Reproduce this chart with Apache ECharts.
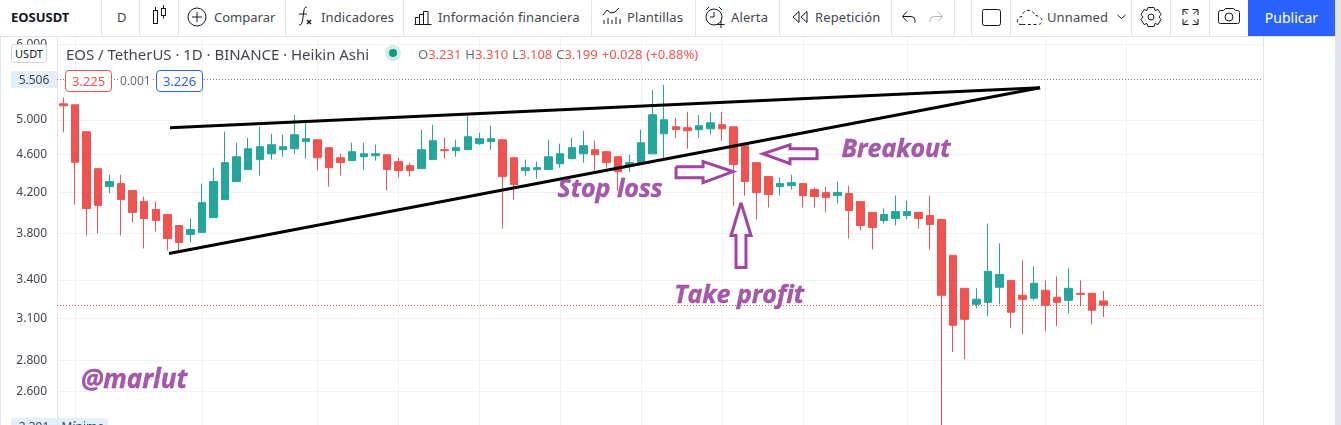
<!DOCTYPE html>
<html lang="es">
<head>
<meta charset="utf-8">
<title>EOSUSDT</title>
<script src="https://cdn.jsdelivr.net/npm/echarts@6/dist/echarts.min.js"></script>
<style>
  html, body { margin: 0; padding: 0; background: #fff; overflow: hidden; }
  body { width: 1341px; height: 425px; position: relative; font-family: "Noto Sans", sans-serif; color: #434651; }
  #chart { position: absolute; left: 0; top: 0; width: 1341px; height: 425px; }
  .abs { position: absolute; white-space: nowrap; }
  #toolbar { position: absolute; left: 0; top: 0; width: 1341px; height: 36px; background: #fff; border-bottom: 1px solid #e0e3eb; }
  .sep { position: absolute; top: 0; width: 1px; height: 36px; background: #e0e3eb; }
  .tb { position: absolute; top: 0; line-height: 35px; font-size: 13px; color: #434651; white-space: nowrap; letter-spacing: .12px; }
  svg.ic { position: absolute; left: 0; top: 0; overflow: visible; }
  svg.ic * { fill: none; stroke: #131722; stroke-width: 1; }
  .box { position: absolute; top: 70px; height: 20px; line-height: 20px; width: 45px; text-align: center; font-size: 13px; background: #fff; border-radius: 4px; }
  .red { color: #ef5350; }
</style>
</head>
<body>
<div id="chart"></div>

<div id="toolbar">
  <div class="tb" style="left:11px;font-weight:700;color:#131722;letter-spacing:0">EOSUSDT</div>
  <div class="tb" style="left:117px">D</div>
  <div class="tb" style="left:214px;letter-spacing:0">Comparar</div>
  <div class="tb" style="left:321px">Indicadores</div>
  <div class="tb" style="left:438px">Información financiera</div>
  <div class="tb" style="left:627px">Plantillas</div>
  <div class="tb" style="left:731px">Alerta</div>
  <div class="tb" style="left:815px">Repetición</div>
  <div class="tb" style="left:1047px">Unnamed</div>
  <div class="abs" style="left:1248px;top:0;width:87px;height:36px;line-height:35px;background:#2962ff;color:#fff;text-align:center;font-size:14px">Publicar</div>
  <div class="sep" style="left:101px"></div><div class="sep" style="left:139px"></div>
  <div class="sep" style="left:178px"></div><div class="sep" style="left:285px"></div>
  <div class="sep" style="left:403px"></div><div class="sep" style="left:591px"></div>
  <div class="sep" style="left:695px"></div><div class="sep" style="left:779px"></div>
  <div class="sep" style="left:891px"></div><div class="sep" style="left:954px"></div>
  <div class="sep" style="left:971px"></div><div class="sep" style="left:1010px"></div>
  <div class="sep" style="left:1131px"></div><div class="sep" style="left:1170px"></div>
  <div class="sep" style="left:1209px"></div>
  <svg class="ic" width="1341" height="36">
    <!-- candle type -->
    <rect x="153.500" y="10.500" width="4" height="13"/><path d="M155.500 7v3.500"/>
    <rect x="161.500" y="8.500" width="4" height="7"/><path d="M163.500 5v3.500M163.500 15.500v3"/>
    <!-- compare -->
    <circle cx="197" cy="17" r="9"/><path d="M197 12v10M192 17h10"/>
    <!-- indicators -->
    <path d="M299 25c2 0 3-1 3.500-4l1.500-11c.5-2.500 1.500-3 3-3M299 14h8"/>
    <path d="M307 20l4 4M311 20l-4 4" style="stroke-width:1.400"/>
    <!-- financials -->
    <path d="M414.500 24.500h17M415.500 24.500v-7h4v7M419.500 24.500v-10h4v10M423.500 24.500v-13h4.500v13"/>
    <!-- templates -->
    <path d="M603 15l4-5 4 3 4-1 4-4M604 24v-4M608 24v-6M612 24v-4M616 24v-7M620 24v-5"/>
    <!-- alert -->
    <circle cx="714" cy="17" r="8"/><path d="M714 12v5h-4M706 10l3-3M722 10l-3-3"/>
    <path d="M721 21v7M717.500 24.500h7"/>
    <!-- replay -->
    <path d="M799 11.500l-6 5.500 6 5.500zM807 11.500l-6 5.500 6 5.500z"/>
    <!-- undo, redo -->
    <path d="M903 16.500h8a4 4 0 0 1 4 4v2M907 11.500l-4.500 5 4.500 5"/>
    <path d="M942 16.500h-8a4 4 0 0 0-4 4v2M938 11.500l4.500 5-4.500 5" style="stroke:#b2b5be"/>
    <!-- drawing layout -->
    <rect x="982.500" y="9.500" width="18" height="16" rx="2"/>
    <!-- cloud -->
    <path d="M1022 24.500h-1c-6 0-4-8 1-8 1-5 4-7 7-6 3 0 6 3 6 5 3 0 7 2 7 5 0 3-2 4-5 4z" style="stroke-dasharray:3 2.500"/>
    <path d="M1117.500 15l4 3.500 4-3.500"/>
    <!-- settings -->
    <circle cx="1151" cy="17" r="3"/>
    <path d="M1148 7.500h6l1 3 3-1 3 5-2 2.500 2 2.500-3 5-3-1-1 3h-6l-1-3-3 1-3-5 2-2.500-2-2.500 3-5 3 1z"/>
    <!-- fullscreen -->
    <path d="M1183 15v-5.500h5.500M1183.500 10l4 4M1198 15v-5.500h-5.500M1197.500 10l-4 4M1183 19v5.500h5.500M1183.500 24l4-4M1198 19v5.500h-5.500M1197.500 24l-4-4"/>
    <!-- snapshot -->
    <path d="M1218.500 12.500a2 2 0 0 1 2-2h3l2-2h8l2 2h2a2 2 0 0 1 2 2v9a2 2 0 0 1-2 2h-17a2 2 0 0 1-2-2z"/>
    <circle cx="1229" cy="17" r="4"/>
  </svg>
</div>

<!-- price scale badges and legend row -->
<div class="abs" style="left:11px;top:44px;width:34px;height:17px;line-height:17px;border:1px solid #d1d4dc;border-radius:3px;background:#fff;font-size:11px;color:#131722;text-align:center">USDT</div>
<div class="abs" style="left:11px;top:71px;width:46px;height:17px;line-height:17px;background:#e3effd;font-size:12px;color:#434651;text-align:center">5.506</div>
<div class="abs" style="left:66px;top:44px;line-height:20px;font-size:15px;letter-spacing:-.03px;color:#434651">EOS / TetherUS · 1D · BINANCE · Heikin Ashi</div>
<div class="abs" style="left:385px;top:45px;width:16px;height:16px;border-radius:8px;background:#d4ece9"></div>
<div class="abs" style="left:389px;top:49px;width:8px;height:8px;border-radius:4px;background:#089981"></div>
<div class="abs" style="left:418px;top:44px;line-height:20px;font-size:13px;color:#6a6d78;word-spacing:.6px">O<span class="red">3.231</span> H<span class="red">3.310</span> L<span class="red">3.108</span> C<span class="red">3.199</span> <span class="red">+0.028 (+0.88%)</span></div>
<div class="box" style="left:65px;border:1px solid #ef5350;color:#ef5350">3.225</div>
<div class="abs" style="left:118px;top:72px;line-height:18px;background:#fff;padding:0 2px;font-size:12px;color:#6a6d78">0.001</div>
<div class="box" style="left:156px;border:1px solid #2962ff;color:#2962ff">3.226</div>
<div class="abs" style="left:11px;top:418px;width:46px;height:17px;line-height:17px;background:#e3effd;border-radius:2px;font-size:12px;color:#434651;text-align:center">2.391</div>
<div class="abs" style="left:58px;top:418px;width:50px;height:17px;line-height:17px;background:#e3effd;border-radius:2px;font-size:12px;color:#434651;text-align:center">Mínimo</div>
<div class="abs" style="left:0;top:37px;width:1px;height:388px;background:#e0e3eb"></div>
<div class="abs" style="left:1263px;top:37px;width:1px;height:388px;background:#e0e3eb"></div>
<div class="abs" style="left:1335px;top:0;width:6px;height:425px;background:#e0e3eb"></div>

<script>
// Daily Heikin Ashi candles for EOSUSDT, oldest first.
const opens = [5.196,5.183,4.858,4.444,4.256,4.287,4.215,4.105,4.028,3.980,3.875,3.792,3.811,3.951,4.125,4.308,4.434,4.542,4.607,4.652,4.663,4.743,4.765,4.675,4.563,4.531,4.574,4.585,4.596,4.520,4.477,4.445,4.542,4.652,4.641,4.652,4.720,4.743,4.765,4.563,4.423,4.434,4.434,4.498,4.552,4.607,4.652,4.630,4.574,4.488,4.498,4.607,4.834,4.916,4.905,4.882,4.893,4.940,4.916,4.697,4.509,4.360,4.256,4.266,4.287,4.226,4.195,4.165,4.185,4.105,3.999,3.922,3.941,3.970,3.999,3.970,3.932,3.606,3.331,3.205,3.220,3.339,3.395,3.275,3.252,3.315,3.260,3.236,3.291,3.291,3.231];
const closes = [5.171,4.513,4.037,4.066,4.308,4.125,3.999,3.941,3.922,3.756,3.720,3.838,4.095,4.308,4.509,4.574,4.663,4.686,4.708,4.686,4.823,4.777,4.563,4.455,4.509,4.630,4.607,4.607,4.434,4.423,4.423,4.652,4.754,4.641,4.675,4.800,4.777,4.777,4.360,4.277,4.455,4.455,4.574,4.607,4.675,4.697,4.596,4.509,4.412,4.509,4.731,5.060,5.000,4.882,4.870,4.928,4.964,4.893,4.488,4.308,4.195,4.175,4.287,4.297,4.165,4.155,4.145,4.195,4.018,3.875,3.857,3.980,4.008,4.008,3.941,3.885,3.275,3.047,3.091,3.244,3.470,3.444,3.144,3.244,3.371,3.197,3.220,3.331,3.283,3.159,3.199];
const lows = [4.850,4.076,3.783,3.801,4.188,3.783,3.903,3.666,3.820,3.649,3.649,3.720,3.811,3.951,4.125,4.308,4.434,4.370,4.542,4.574,4.607,4.552,4.423,4.256,4.370,4.531,4.434,4.531,4.215,4.349,4.360,4.445,4.542,4.552,4.574,4.652,4.708,4.652,3.847,4.125,4.370,4.339,4.434,4.455,4.552,4.509,4.423,4.455,4.215,4.412,4.498,4.607,4.531,4.788,4.663,4.788,4.823,4.754,4.066,4.165,3.932,4.047,4.165,4.226,4.047,4.047,3.999,4.085,3.756,3.829,3.657,3.894,3.875,3.932,3.847,3.657,2.391,2.856,2.808,3.174,3.114,3.205,3.025,2.982,3.236,3.004,3.040,3.136,3.189,3.054,3.108];
const highs = [5.275,5.183,4.858,4.445,4.380,4.380,4.215,4.155,4.105,3.980,3.875,3.941,4.287,4.455,4.858,4.731,4.788,4.916,4.834,4.822,5.060,5.000,4.765,4.675,4.607,4.731,4.731,4.708,4.596,4.563,4.509,4.882,4.940,4.788,4.765,5.060,4.846,4.928,4.765,4.563,4.542,4.520,4.765,4.720,4.788,4.870,4.754,4.630,4.574,4.596,4.882,5.374,5.439,5.024,5.097,5.060,5.085,5.097,4.916,4.697,4.509,4.360,4.349,4.380,4.287,4.246,4.256,4.308,4.266,4.105,3.999,4.037,4.165,4.115,4.008,4.165,3.932,3.606,3.331,3.331,3.894,3.711,3.395,3.563,3.512,3.395,3.428,3.495,3.395,3.291,3.310];

// Price scale labels and the daily slots carrying a vertical grid line.
const priceTicks = [6.0, 5.0, 4.6, 4.2, 3.8, 3.4, 3.1, 2.8, 2.6];
const gridSlots = [1, 12, 22, 29, 36, 43, 50, 57, 64, 73, 85, 92];

// Reference price lines: session high and last close.
const highLine = 5.506;
const lastClose = 3.199;

// Wedge drawn over the candles, as [slot, price] points.
const wedgeTop = [[9.23, 4.905], [84.52, 5.400]];
const wedgeBottom = [[9.15, 3.623], [84.52, 5.400]];

// Hollow trade arrows, closed outlines in [slot, price] points.
const arrowStop = [[53.02,4.466],[55.36,4.466],[55.36,4.520],[57.95,4.412],[55.36,4.297],[55.36,4.349],[53.02,4.349],[53.02,4.466]];
const arrowBreakout = [[65.22,4.664],[62.88,4.664],[62.88,4.708],[60.54,4.607],[62.88,4.498],[62.88,4.552],[65.22,4.552],[65.22,4.664]];
const arrowProfit = [[58.64,4.095],[57.78,3.783],[58.21,3.783],[58.21,3.503],[59.07,3.503],[59.07,3.783],[59.51,3.783],[58.64,4.095]];

// Handwritten notes on the chart.
const notes = [
  { name: 'Stop loss', value: [47.31, 4.225], label: { fontSize: 25 } },
  { name: 'Breakout', value: [72.05, 4.652], label: { fontSize: 25 } },
  { name: 'Take profit', value: [58.47, 3.267], label: { fontSize: 25 } },
  { name: '@marlut', value: [6.12, 2.664], label: { fontSize: 26 } }
];

const candles = opens.map((o, i) => [i, o, closes[i], lows[i], highs[i]]);
const UP = '#26a69a', DOWN = '#ef5350', ARROW = '#a044a0', NOTE = '#8f2f94';

const lineSeries = (data, color, width) => ({
  type: 'line', data, symbol: 'none', silent: true, animation: false, z: 5,
  lineStyle: { color, width, cap: 'butt', join: 'miter' }
});

const chart = echarts.init(document.getElementById('chart'), null, { renderer: 'canvas' });
chart.setOption({
  animation: false,
  backgroundColor: '#fff',
  grid: { left: 57, right: 78, top: 38, bottom: -1 },
  xAxis: {
    type: 'value', min: -0.545, max: 103.81,
    axisLine: { show: false, onZero: false }, axisLabel: { show: false },
    axisTick: { show: false, customValues: gridSlots },
    splitLine: { show: true, lineStyle: { color: '#f0f1f5', width: 1 } }
  },
  yAxis: {
    type: 'log', logBase: 10, min: 2.396, max: 6.089, position: 'left',
    axisLine: { show: true, onZero: false, lineStyle: { color: '#e0e3eb', width: 1 } },
    axisTick: { show: false, customValues: priceTicks },
    axisLabel: {
      customValues: priceTicks, color: '#434651', fontFamily: 'Noto Sans', fontSize: 12, margin: 10,
      padding: [2, 0, 0, 0],
      formatter: v => Number(v).toFixed(3)
    },
    splitLine: { show: true, lineStyle: { color: '#f0f1f5', width: 1 } }
  },
  series: [
    {
      type: 'candlestick',
      data: candles,
      encode: { x: 0, y: [1, 2, 3, 4] },
      barWidth: 8,
      itemStyle: { color: UP, color0: DOWN, borderColor: UP, borderColor0: DOWN, borderWidth: 1 },
      markLine: {
        silent: true, symbol: 'none', animation: false, label: { show: false },
        data: [
          { yAxis: highLine, lineStyle: { color: '#787b86', type: [1, 2], width: 1 } },
          { yAxis: lastClose, lineStyle: { color: DOWN, type: [1, 2], width: 1 } }
        ]
      }
    },
    lineSeries(wedgeTop, '#000', 3),
    lineSeries(wedgeBottom, '#000', 3),
    lineSeries(arrowStop, ARROW, 3),
    lineSeries(arrowBreakout, ARROW, 3),
    lineSeries(arrowProfit, ARROW, 3),
    {
      type: 'scatter', data: notes, symbolSize: 0, silent: true, z: 6,
      label: {
        show: true, position: 'inside', formatter: p => p.name,
        color: NOTE, fontFamily: 'Open Sans', fontStyle: 'italic', fontWeight: 'bold', fontSize: 25,
        textBorderColor: NOTE, textBorderWidth: 0.4
      }
    }
  ]
});
</script>
</body>
</html>
